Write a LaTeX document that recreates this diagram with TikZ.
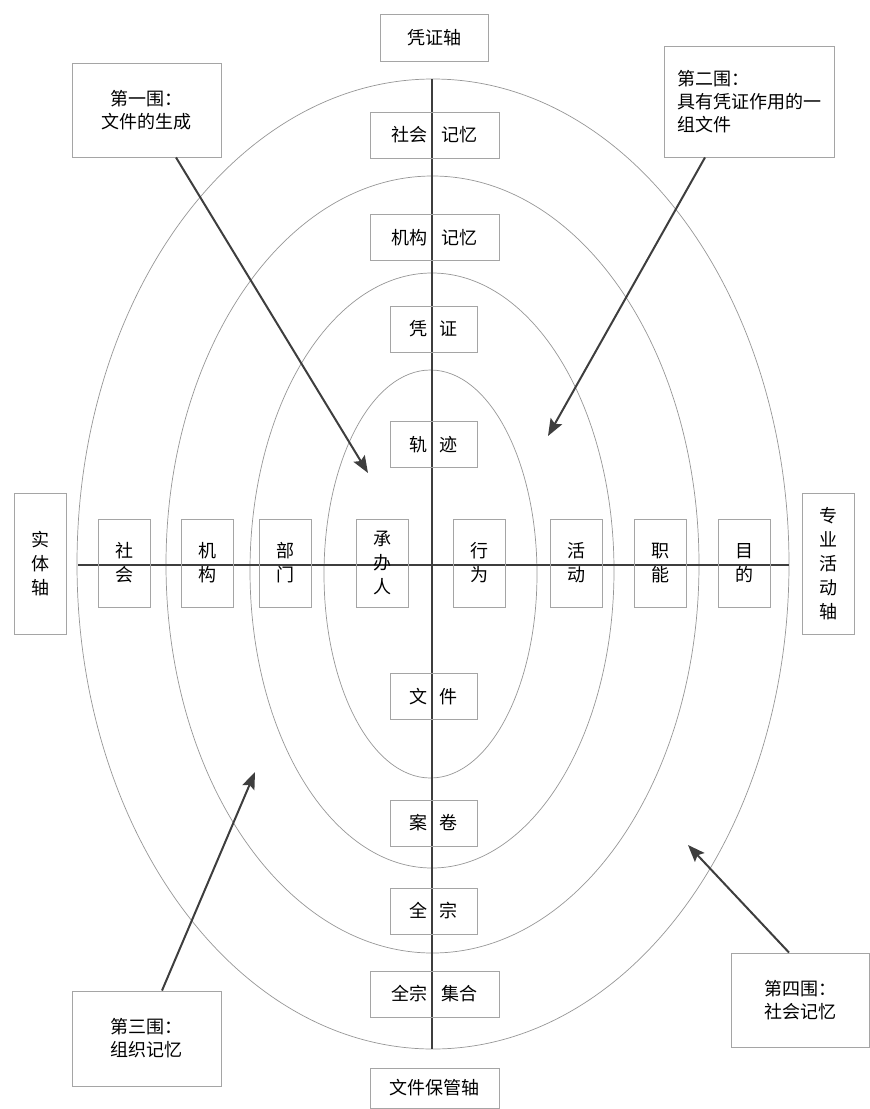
\documentclass[tikz,border=0pt]{standalone}
\usepackage{fontspec}
\setmainfont{Noto Sans CJK SC}
\usepackage{tikz}
\usetikzlibrary{arrows.meta, positioning, calc}
\definecolor{Zhouxian}{RGB}{62,62,62}
\definecolor{Kuangxian}{RGB}{165,165,165}
\definecolor{Quanxian}{RGB}{150,150,150}

\begin{document}
\begin{tikzpicture}[x=1pt, y=-1pt,
    hbox/.style={
        rectangle, draw=Kuangxian, line width=0.9pt,
        minimum width=52pt, minimum height=88pt, inner sep=0pt,
        align=center, font=\fontsize{18}{24}\selectfont},
    vbox/.style={
        rectangle, draw=Kuangxian, line width=0.9pt,
        minimum width=87pt, minimum height=46pt, inner sep=0pt,
        font=\fontsize{18}{22}\selectfont},
    wbox/.style={vbox, minimum width=129pt},
    sidebox/.style={hbox, minimum height=141pt},
    quanbox/.style={
        rectangle, draw=Kuangxian, line width=0.9pt, inner sep=0pt,
        font=\fontsize{18}{23}\selectfont},
    ring/.style={draw=Quanxian, line width=0.7pt},
    zhou/.style={draw=Zhouxian, line width=2pt},
    arr/.style={-{Stealth[length=17pt, width=13pt, inset=3pt]}, line width=2pt, draw=Zhouxian, color=Zhouxian}]
  \useasboundingbox (0,0) rectangle (870,1109);
  % 四个同心椭圆
  \draw[ring] (433,564) ellipse [x radius=356, y radius=485];
  \draw[ring] (432.5,564.5) ellipse [x radius=266.5, y radius=388.5];
  \draw[ring] (432,570.5) ellipse [x radius=182, y radius=297.5];
  \draw[ring] (430.5,574) ellipse [x radius=106.5, y radius=204];
  % 坐标轴
  \coordinate (vtop) at (432,79);
  \coordinate (vbot) at (432,1049);
  \coordinate (hl) at (78,565);
  \coordinate (hr) at (789,565);
  \draw[zhou] (vtop) -- (vbot);
  \draw[zhou] (hl) -- (hr);
  % 轴名
  \node[vbox, minimum width=108pt, minimum height=47pt] (pzz) at (434,37.5) {凭证轴};
  \node[wbox, minimum height=40pt] (wjbg) at (434.5,1088) {文件保管轴};
  \node[sidebox] (stz) at (40,563.5) {实\\体\\轴};
  \node[sidebox] (zyhd) at (828,563.5) {专\\业\\活\\动\\轴};
  % 纵轴上的节点
  \node[wbox] (shjy) at (434.5,135) {社会\hspace{14pt}记忆};
  \node[wbox] (jgjy) at (434.5,237.5) {机构\hspace{14pt}记忆};
  \node[vbox] (pz) at (433.5,329) {凭\hspace{13pt}证};
  \node[vbox] (gj) at (433.5,444.5) {轨\hspace{13pt}迹};
  \node[vbox] (wj) at (433.5,696.5) {文\hspace{13pt}件};
  \node[vbox] (aj) at (433.5,823) {案\hspace{13pt}卷};
  \node[vbox] (qz) at (433.5,911) {全\hspace{13pt}宗};
  \node[wbox] (qzjh) at (434.5,994) {全宗\hspace{14pt}集合};
  % 横轴上的节点
  \node[hbox] (sh) at (124,563) {社\\会};
  \node[hbox] (jg) at (207.5,563) {机\\构};
  \node[hbox] (bm) at (285,563) {部\\门};
  \node[hbox] (cbr) at (382,563) {承\\办\\人};
  \node[hbox] (xw) at (479,563) {行\\为};
  \node[hbox] (hd) at (576,563) {活\\动};
  \node[hbox] (zn) at (660,563) {职\\能};
  \node[hbox] (md) at (744,563) {目\\的};
  % 四围说明框
  \node[quanbox, minimum width=149pt, minimum height=94pt, align=center] (q1) at (146.5,110) {第一围：\\文件的生成};
  \node[quanbox, minimum width=170pt, minimum height=111pt, align=left] (q2) at (749,101.5) {第二围：\\具有凭证作用的一\\组文件};
  \node[quanbox, minimum width=149pt, minimum height=95pt, align=left] (q3) at (146.5,1038.5) {第三围：\\组织记忆};
  \node[quanbox, minimum width=138pt, minimum height=94pt, align=left] (q4) at (800,1000) {第四围：\\社会记忆};
  % 指向各围的箭头
  \coordinate (t1) at (368,473);
  \coordinate (t2) at (548,436);
  \coordinate (t3) at (255,772);
  \coordinate (t4) at (688,845);
  \draw[arr] ([xshift=29.5pt]q1.south) -- (t1);
  \draw[arr] ([xshift=-44pt]q2.south) -- (t2);
  \draw[arr] ([xshift=15.5pt]q3.north) -- (t3);
  \draw[arr] ([xshift=-11pt]q4.north) -- (t4);
\end{tikzpicture}
\end{document}
